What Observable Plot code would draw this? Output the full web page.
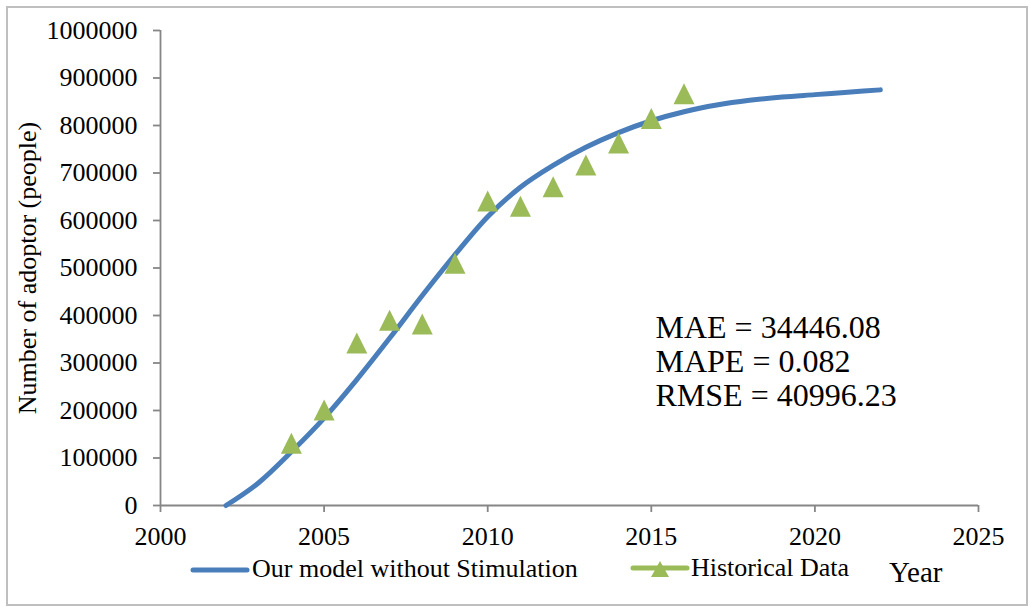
<!DOCTYPE html>
<html>
<head>
<meta charset="utf-8">
<script src="https://cdn.jsdelivr.net/npm/d3@7"></script>
<script src="https://cdn.jsdelivr.net/npm/@observablehq/plot@0.6"></script>
<style>
  html, body { margin: 0; padding: 0; background: #fff; }
  #wrap { position: relative; width: 1030px; height: 607px; font-family: "Liberation Serif", "Times New Roman", serif; color: #000; }
  #frame { position: absolute; left: 6px; top: 6px; width: 1018px; height: 596px; border: 2px solid #bfbfbf; }
  #chart { position: absolute; left: 0; top: 0; }
  .lg { position: absolute; font-size: 26px; line-height: 26px; white-space: nowrap; }
  .sw { position: absolute; }
</style>
</head>
<body>
<div id="wrap">
  <div id="frame"></div>
  <div id="chart"></div>
  <svg class="sw" style="left:190px; top:563px" width="60" height="14"><line x1="3" y1="7" x2="57" y2="7" stroke="#4a7ebb" stroke-width="5" stroke-linecap="round"/></svg>
  <div class="lg" style="left:252px; top:556px">Our model without Stimulation</div>
  <svg class="sw" style="left:630px; top:558px" width="62" height="22"><line x1="3" y1="10" x2="57" y2="10" stroke="#9bbb59" stroke-width="5" stroke-linecap="round"/><path d="M30,3 L39,19 L21,19 Z" fill="#9bbb59"/></svg>
  <div class="lg" style="left:691px; top:555px">Historical Data</div>
  <div class="lg" style="left:889px; top:558px; font-size:29px; line-height:29px">Year</div>
</div>
<script>
// Model curve (Our model without Stimulation)
const modelYears = [2002, 2003, 2004, 2005, 2006, 2007, 2008, 2009, 2010, 2011, 2012, 2013, 2014, 2015, 2016, 2017, 2018, 2019, 2020, 2021, 2022];
const modelValues = [0, 48000, 113000, 184000, 265000, 352000, 442000, 528000, 608000, 670000, 716000, 754000, 785000, 810000, 829000, 843000, 853000, 860000, 865000, 870000, 875000];

// Historical data
const histYears = [2004, 2005, 2006, 2007, 2008, 2009, 2010, 2011, 2012, 2013, 2014, 2015, 2016];
const histValues = [131000, 201000, 342000, 390000, 382000, 510000, 641000, 630000, 671000, 717000, 763000, 815000, 867000];

// Axis ticks
const xTicks = [2000, 2005, 2010, 2015, 2020, 2025];
const yTicks = [0, 100000, 200000, 300000, 400000, 500000, 600000, 700000, 800000, 900000, 1000000];

const statsLines = ["MAE = 34446.08", "MAPE = 0.082", "RMSE = 40996.23"];

const model = modelYears.map((x, i) => ({x, y: modelValues[i]}));
const hist = histYears.map((x, i) => ({x, y: histValues[i]}));

const triangle = {
  draw(context, size) {
    const r = Math.sqrt(size / Math.PI);
    context.moveTo(0, -r);
    context.lineTo(r, r);
    context.lineTo(-r, r);
    context.closePath();
  }
};

const axisColor = "#868686";

const chart = Plot.plot({
  width: 1030,
  height: 552,
  marginLeft: 160,
  marginRight: 52,
  marginTop: 30,
  marginBottom: 47,
  style: {fontFamily: "Liberation Serif, Times New Roman, serif", fontSize: "26px", color: "#000", background: "transparent", overflow: "visible"},
  x: {domain: [2000, 2025]},
  y: {domain: [0, 1000000]},
  marks: [
    Plot.axisX({ticks: xTicks, tickFormat: d => String(d), tickSize: 7, tickPadding: 14, stroke: axisColor, strokeWidth: 1.8, fill: "#000", label: null}),
    Plot.axisY({ticks: yTicks, tickFormat: d => String(d), tickSize: 7, tickPadding: 16, stroke: axisColor, strokeWidth: 1.8, fill: "#000",
      label: "Number of adoptor (people)", labelAnchor: "center", labelOffset: 143, labelArrow: "none"}),
    Plot.ruleY([0], {stroke: axisColor, strokeWidth: 1.8}),
    Plot.ruleX([2000], {stroke: axisColor, strokeWidth: 1.8}),
    Plot.line(model, {x: "x", y: "y", stroke: "#4a7ebb", strokeWidth: 5, curve: "monotone-x", strokeLinecap: "round"}),
    Plot.dot(hist, {x: "x", y: "y", symbol: triangle, r: 10.5, fill: "#9bbb59", stroke: "none"}),
    Plot.text([statsLines.join("\n")], {frameAnchor: "top-left", dx: 495, dy: 284, textAnchor: "start", lineAnchor: "top", lineHeight: 1.05, fontSize: 32, fill: "#000"})
  ]
});
document.getElementById("chart").appendChild(chart);
</script>
</body>
</html>
